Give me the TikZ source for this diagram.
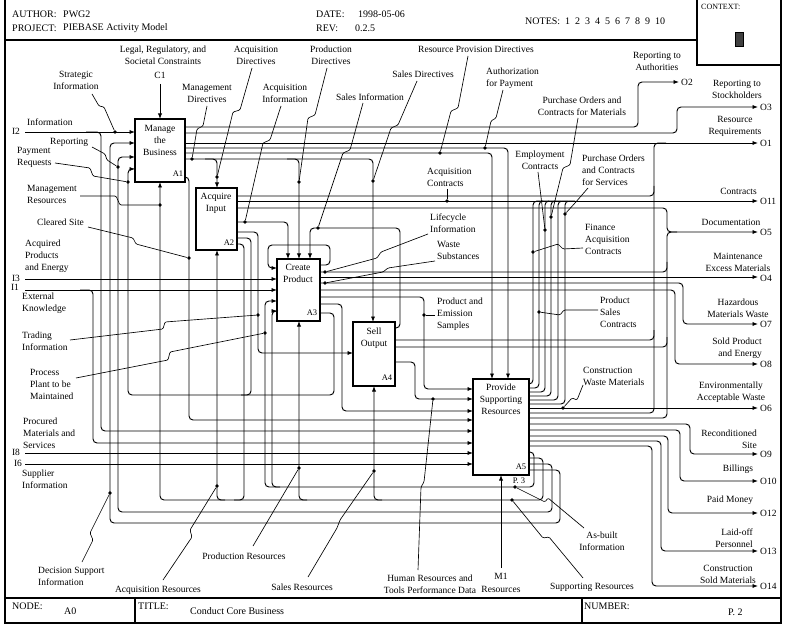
\documentclass[tikz,border=0pt]{standalone}
\usepackage{fontspec}
\setmainfont{Liberation Serif}
\usetikzlibrary{arrows.meta}
\begin{document}
\begin{tikzpicture}[x=1pt,y=-1pt,
  ln/.style={line width=0.95pt, rounded corners=4pt},
  ar/.style={ln, -{Latex[length=5.5pt,width=4.2pt]}},
  ldr/.style={line width=0.65pt, rounded corners=1.2pt},
  jdot/.style={circle, fill, inner sep=0pt, minimum size=3.8pt},
  lbl/.style={font=\fontsize{9.5}{12}\selectfont, align=center, inner sep=0pt},
  lbll/.style={lbl, align=left, anchor=west},
  lblr/.style={lbl, align=right, anchor=east},
  oid/.style={lbl, anchor=west},
  hdr/.style={font=\fontsize{10}{12}\selectfont, inner sep=0pt, anchor=west},
  box/.style={draw, line width=1.2pt, anchor=north west, inner sep=0pt, outer sep=0pt},
  frm/.style={line width=1.3pt},
  tag/.style={font=\fontsize{8.5}{10}\selectfont, inner sep=0pt}]

\useasboundingbox (0,0) rectangle (800,628);

% ---------- frame ----------
\draw[frm] (5,0) -- (5,623) -- (781,623) -- (781,0);
\draw[frm] (5,40) -- (697,40);
\draw[frm] (697,0) -- (697,65) -- (781,65);
\draw[frm] (5,598) -- (781,598);
\draw[frm] (135,598) -- (135,623);
\draw[frm] (582,598) -- (582,623);
\draw[line width=0.8pt, fill=black!75] (735,32) rectangle (743,46);

% ---------- header ----------
\node[hdr] (hAuth) at (12,14) {AUTHOR:};
\node[hdr] (hAuthV) at (63,14) {PWG2};
\node[hdr] (hProj) at (12,28) {PROJECT:};
\node[hdr] (hProjV) at (63,28) {PIEBASE Activity Model};
\node[hdr] (hDate) at (316,14) {DATE:};
\node[hdr] (hDateV) at (358,14) {1998-05-06};
\node[hdr] (hRev) at (316,28) {REV:};
\node[hdr] (hRevV) at (355,28) {0.2.5};
\node[hdr] (hNotes) at (525,21) {NOTES:\ \ 1\ \ 2\ \ 3\ \ 4\ \ 5\ \ 6\ \ 7\ \ 8\ \ 9\ \ 10};
\node[hdr, font=\fontsize{8}{9}\selectfont] (hCtx) at (701,7) {CONTEXT:};

% ---------- footer ----------
\node[hdr] (fNode) at (12,606) {NODE:};
\node[hdr] (fNodeV) at (64,611) {A0};
\node[hdr] (fTitle) at (138,606) {TITLE:};
\node[hdr] (fTitleV) at (190,611) {Conduct Core Business};
\node[hdr] (fNum) at (584,606) {NUMBER:};
\node[hdr] (fNumV) at (728,612) {P. 2};

% ---------- activity boxes ----------
\node[box, minimum width=50pt, minimum height=63pt] (A1) at (135,119) {};
\node[box, minimum width=41pt, minimum height=62pt] (A2) at (196,188) {};
\node[box, minimum width=43pt, minimum height=62pt] (A3) at (277,259) {};
\node[box, minimum width=42pt, minimum height=64pt] (A4) at (353,322) {};
\node[box, minimum width=56pt, minimum height=96pt] (A5) at (473,379) {};

\node[lbl] (A1t) at (160,140) {Manage\\the\\Business};
\node[lbl] (A2t) at (216,203) {Acquire\\Input};
\node[lbl] (A3t) at (298,273) {Create\\Product};
\node[lbl] (A4t) at (374,338) {Sell\\Output};
\node[lbl] (A5t) at (501,399) {Provide\\Supporting\\Resources};
\node[tag] (A1n) at (178,174) {A1};
\node[tag] (A2n) at (229,243) {A2};
\node[tag] (A3n) at (312,313) {A3};
\node[tag] (A4n) at (387,378) {A4};
\node[tag] (A5n) at (521,467) {A5};
\node[tag] (P3) at (519,481) {P. 3};

% ---------- boundary arrows ----------
\draw[ar] (160,84) -- (A1.north);
\draw[ar] (25,132) -- (135,132);
\draw[ar] (86,132) -- (101,132) -- (101,431) -- (473,431);
\draw[ar] (25,279) -- (277,279);
\draw[ar] (25,290) -- (277,290);
\draw[ar] (80,290) -- (93,290) -- (93,443) -- (473,443);
\draw[ar] (25,453) -- (473,453);
\draw[ar] (25,464) -- (473,464);
\draw[ar] (501,568) -- (501,475);

% ---------- A1 outputs ----------
\draw[ar] (185,127) -- (638,127) -- (638,82) -- (679,82);
\draw[ar] (185,133) -- (677,133) -- (677,107) -- (758,107);
\draw[ar] (185,143) -- (758,143);
\draw[ar] (185,148) -- (508,148) -- (508,379);
\draw[ar] (185,153) -- (492,153) -- (492,379);
\draw[ar] (185,159) -- (373,159) -- (373,322);
\draw[ar] (205,159) -- (217,159) -- (217,188);
\draw[ar] (287,159) -- (299,159) -- (299,259);
\draw[ar] (185,177) -- (189,177) -- (189,420) -- (473,420);

% ---------- feedback along the bottom ----------
\draw[ar] (529,470) -- (560,470) -- (560,523) -- (110,523) -- (110,143) -- (135,143);
\draw[ar] (529,464) -- (552,464) -- (552,512) -- (118,512) -- (118,157) -- (135,157);
\draw[ar] (529,458) -- (543,458) -- (543,500) -- (160,500) -- (A1.south);
\draw[ar] (225,500) -- (217,500) -- (217,250);
\draw[ar] (307,500) -- (299,500) -- (299,321);
\draw[ar] (382,500) -- (374,500) -- (374,386);
\draw[ar] (529,452) -- (534,452) -- (534,487) -- (265,487) -- (265,301) -- (277,301);
\draw[ar] (280,487) -- (272,487) -- (272,311) -- (277,311);

% ---------- A2 outputs ----------
\draw[ln] (237,196) -- (654,196) -- (654,186);
\draw[ar] (237,201) -- (758,201);
\draw[ar] (237,208) -- (667,208) -- (667,232) -- (758,232);
\draw[ar] (237,222) -- (288,222) -- (288,259);
\draw[ar] (237,232) -- (258,232) -- (258,353) -- (353,353);
\draw[ln] (237,238) -- (251,238) -- (251,395) -- (241,395);
\draw[ln] (237,244) -- (244,244) -- (244,500) -- (234,500);

% ---------- A3 outputs ----------
\draw[ar] (320,265) -- (330,265) -- (330,245) -- (268,245) -- (268,268) -- (277,268);
\draw[ln] (320,272) -- (667,272) -- (667,262);
\draw[ar] (320,277) -- (758,277);
\draw[ar] (320,283) -- (683,283) -- (683,324) -- (758,324);
\draw[ar] (320,290) -- (675,290) -- (675,364) -- (758,364);
\draw[ar] (320,297) -- (424,297) -- (424,389) -- (473,389);
\draw[ar] (320,304) -- (342,304) -- (342,411) -- (473,411);
\draw[ar] (320,313) -- (334,313) -- (334,395) -- (128,395) -- (128,169) -- (135,169);

% ---------- A4 outputs ----------
\draw[ar] (395,328) -- (400,328) -- (400,228) -- (310,228) -- (310,259);
\draw[ln] (395,340) -- (654,340) -- (654,330);
\draw[ln] (395,347) -- (667,347) -- (667,337);
\draw[ar] (395,362) -- (415,362) -- (415,399) -- (473,399);

% ---------- A5 outputs ----------
\draw[ln] (529,384) -- (533,384) -- (533,201) -- (543,201);
\draw[ln] (529,388) -- (539,388) -- (539,201) -- (549,201);
\draw[ln] (529,392) -- (545,392) -- (545,201) -- (555,201);
\draw[ln] (529,396) -- (551,396) -- (551,201) -- (561,201);
\draw[ln] (529,400) -- (558,400) -- (558,201) -- (568,201);
\draw[ln] (529,404) -- (565,404) -- (565,201) -- (575,201);
\draw[ar] (529,408) -- (758,408);
\draw[ln] (529,413) -- (654,413) -- (654,143) -- (666,143);
\draw[ln] (529,418) -- (667,418) -- (667,232) -- (677,232);
\draw[ar] (529,424) -- (690,424) -- (690,454) -- (758,454);
\draw[ar] (529,430) -- (680,430) -- (680,481) -- (758,481);
\draw[ar] (529,436) -- (668,436) -- (668,513) -- (758,513);
\draw[ar] (529,441) -- (661,441) -- (661,551) -- (758,551);
\draw[ar] (529,446) -- (652,446) -- (652,586) -- (758,586);

% ---------- junction dots ----------
\node[jdot] (dStrat) at (115,132) {};
\node[jdot] (dMgmtDir) at (192,159) {};
\node[jdot] (dAcqDir) at (217,177) {};
\node[jdot] (dAcqInf) at (245,222) {};
\node[jdot] (dProdDir) at (299,182) {};
\node[jdot] (dSalesInf) at (318,228) {};
\node[jdot] (dSalesDir) at (373,181) {};
\node[jdot] (dResProv) at (440,153) {};
\node[jdot] (dAuth) at (485,148) {};
\node[jdot] (dPOMat) at (551,217) {};
\node[jdot] (dEmp) at (545,230) {};
\node[jdot] (dPOSvc) at (565,214) {};
\node[jdot] (dFin) at (533,252) {};
\node[jdot] (dAcqCon) at (447,201) {};
\node[jdot] (dLife) at (325,272) {};
\node[jdot] (dWaste) at (325,283) {};
\node[jdot] (dPES) at (424,315) {};
\node[jdot] (dPSC) at (539,312) {};
\node[jdot] (dCWM) at (563,408) {};
\node[jdot] (dCleared) at (189,258) {};
\node[jdot] (dMgmtRes) at (160,205) {};
\node[jdot] (dPay) at (128,182) {};
\node[jdot] (dRep) at (118,167) {};
\node[jdot] (dTrade) at (258,315) {};
\node[jdot] (dPlant) at (265,333) {};
\node[jdot] (dDSI) at (110,493) {};
\node[jdot] (dAcqRes) at (217,486) {};
\node[jdot] (dProdRes) at (299,468) {};
\node[jdot] (dSalesRes) at (374,471) {};
\node[jdot] (dHR) at (433,399) {};
\node[jdot] (dSupRes) at (512,500) {};
\node[jdot] (dAsb) at (515,487) {};

% ---------- labels: left ----------
\node[lbl] (tStrat) at (76,80) {Strategic\\Information};
\node[lbll] (tInfo) at (27,122) {Information};
\node[lbl] (tI2) at (16,131) {I2};
\node[lbll] (tRep) at (50,142) {Reporting};
\node[lbll] (tPay) at (17,157) {Payment\\Requests};
\node[lbll] (tMgmtRes) at (27,194) {Management\\Resources};
\node[lbll] (tCleared) at (37,222) {Cleared Site};
\node[lbll] (tAcqP) at (25,256) {Acquired\\Products\\and Energy};
\node[lbl] (tI3) at (16,278) {I3};
\node[lbl] (tI1) at (15,287) {I1};
\node[lbll] (tExt) at (22,303) {External\\Knowledge};
\node[lbll] (tTrade) at (22,341) {Trading\\Information};
\node[lbll] (tPlant) at (30,384) {Process\\Plant to be\\Maintained};
\node[lbll] (tProc) at (23,433) {Procured\\Materials and\\Services};
\node[lbl] (tI8) at (16,452) {I8};
\node[lbl] (tI6) at (18,463) {I6};
\node[lbll] (tSup) at (22,479) {Supplier\\Information};
\node[lbll] (tDSI) at (38,576) {Decision Support\\Information};

% ---------- labels: top ----------
\node[lbl] (tLegal) at (163,55) {Legal, Regulatory, and\\Societal Constraints};
\node[lbl] (tC1) at (160,75) {C1};
\node[lbl] (tMgmtDir) at (207,93) {Management\\Directives};
\node[lbl] (tAcqDir) at (256,55) {Acquisition\\Directives};
\node[lbl] (tAcqInf) at (285,93) {Acquisition\\Information};
\node[lbl] (tProdDir) at (331,55) {Production\\Directives};
\node[lbl] (tSalesInf) at (370,97) {Sales Information};
\node[lbl] (tSalesDir) at (423,74) {Sales Directives};
\node[lbl] (tResProv) at (476,49) {Resource Provision Directives};
\node[lbll] (tAuth) at (486,78) {Authorization\\for Payment};
\node[lbl] (tPOMat) at (582,106) {Purchase Orders and\\Contracts for Materials};
\node[lbl] (tRepAuth) at (657,61) {Reporting to\\Authorities};
\node[oid] (tO2) at (681,82) {O2};
\node[lbl] (tRepSt) at (737,89) {Reporting to\\Stockholders};
\node[oid] (tO3) at (760,107) {O3};
\node[lbl] (tResReq) at (735,126) {Resource\\Requirements};
\node[oid] (tO1) at (760,143) {O1};

% ---------- labels: middle / right ----------
\node[lbl] (tEmp) at (540,160) {Employment\\Contracts};
\node[lbll] (tPOSvc) at (582,170) {Purchase Orders\\and Contracts\\for Services};
\node[lbll] (tAcqCon) at (427,177) {Acquisition\\Contracts};
\node[lblr] (tCon) at (757,191) {Contracts};
\node[oid] (tO11) at (760,201) {O11};
\node[lbl] (tDoc) at (731,222) {Documentation};
\node[oid] (tO5) at (760,232) {O5};
\node[lbll] (tFin) at (585,239) {Finance\\Acquisition\\Contracts};
\node[lbll] (tLife) at (430,223) {Lifecycle\\Information};
\node[lbll] (tWaste) at (437,250) {Waste\\Substances};
\node[lbl] (tMaint) at (738,262) {Maintenance\\Excess Materials};
\node[oid] (tO4) at (760,278) {O4};
\node[lbll] (tPES) at (437,314) {Product and\\Emission\\Samples};
\node[lbll] (tPSC) at (600,312) {Product\\Sales\\Contracts};
\node[lbl] (tHaz) at (738,308) {Hazardous\\Materials Waste};
\node[oid] (tO7) at (760,324) {O7};
\node[lblr] (tSold) at (762,348) {Sold Product\\and Energy};
\node[oid] (tO8) at (760,364) {O8};
\node[lbll] (tCWM) at (583,376) {Construction\\Waste Materials};
\node[lbl] (tEnv) at (731,392) {Environmentally\\Acceptable Waste};
\node[oid] (tO6) at (760,408) {O6};
\node[lblr] (tRecon) at (757,439) {Reconditioned\\Site};
\node[oid] (tO9) at (760,454) {O9};
\node[lbl] (tBill) at (738,469) {Billings};
\node[oid] (tO10) at (760,481) {O10};
\node[lbl] (tPaid) at (730,500) {Paid Money};
\node[oid] (tO12) at (760,513) {O12};
\node[lblr] (tLaid) at (753,538) {Laid-off\\Personnel};
\node[oid] (tO13) at (760,551) {O13};
\node[lbl] (tCSM) at (728,574) {Construction\\Sold Materials};
\node[oid] (tO14) at (760,586) {O14};

% ---------- labels: bottom ----------
\node[lbl] (tAcqRes) at (158,590) {Acquisition Resources};
\node[lbl] (tProdRes) at (244,556) {Production Resources};
\node[lbl] (tSalesRes) at (302,587) {Sales Resources};
\node[lbl] (tHR) at (430,584) {Human Resources and\\Tools Performance Data};
\node[lbl] (tM1) at (501,576) {M1};
\node[lbl] (tRes) at (501,589) {Resources};
\node[lbl] (tSupRes) at (592,587) {Supporting Resources};
\node[lbl] (tAsb) at (602,541) {As-built\\Information};

% ---------- leaders ----------
\draw[ldr] (92,94) -- (99,106) -- (104,107) -- (dStrat);
\draw[ldr] (207,106) -- (203,126) -- (197,129) -- (dMgmtDir);
\draw[ldr] (252,68) -- (240,110) -- (233,112) -- (dAcqDir);
\draw[ldr] (281,106) -- (270,140) -- (263,143) -- (dAcqInf);
\draw[ldr] (327,68) -- (315,115) -- (308,118) -- (dProdDir);
\draw[ldr] (363,103) -- (350,150) -- (343,153) -- (dSalesInf);
\draw[ldr] (417,81) -- (398,125) -- (391,128) -- (dSalesDir);
\draw[ldr] (468,56) -- (458,108) -- (451,111) -- (dResProv);
\draw[ldr] (503,90) -- (496,118) -- (491,121) -- (dAuth);
\draw[ldr] (578,118) -- (570,165) -- (563,168) -- (dPOMat);
\draw[ldr] (538,172) -- (dEmp);
\draw[ldr] (588,188) -- (575,203) -- (dPOSvc);
\draw[ldr] (583,248) -- (563,249) -- (558,244) -- (dFin);
\draw[ldr] (447,189) -- (dAcqCon);
\draw[ldr] (428,234) -- (381,252) -- (377,258) -- (dLife);
\draw[ldr] (435,261) -- (388,268) -- (383,272) -- (dWaste);
\draw[ldr] (435,315) -- (dPES);
\draw[ldr] (598,310) -- (564,310) -- (560,315) -- (dPSC);
\draw[ldr] (583,385) -- (577,400) -- (572,398) -- (dCWM);
\draw[ldr] (88,227) -- (133,238) -- (136,244) -- (dCleared);
\draw[ldr] (80,196) -- (116,196) -- (120,205) -- (dMgmtRes);
\draw[ldr] (55,163) -- (90,168) -- (93,176) -- (dPay);
\draw[ldr] (92,147) -- (105,154) -- (107,160) -- (dRep);
\draw[ldr] (70,340) -- (163,329) -- (165,322) -- (dTrade);
\draw[ldr] (76,378) -- (168,360) -- (170,352) -- (dPlant);
\draw[ldr] (82,562) -- (93,540) -- (90,533) -- (dDSI);
\draw[ldr] (163,580) -- (192,537) -- (190,530) -- (dAcqRes);
\draw[ldr] (253,546) -- (dProdRes);
\draw[ldr] (308,577) -- (337,528) -- (340,520) -- (dSalesRes);
\draw[ldr] (418,570) -- (421,487) -- (424,482) -- (dHR);
\draw[ldr] (583,578) -- (549,537) -- (543,538) -- (dSupRes);
\draw[ldr] (584,528) -- (548,498) -- (545,502) -- (dAsb);

\end{tikzpicture}
\end{document}
